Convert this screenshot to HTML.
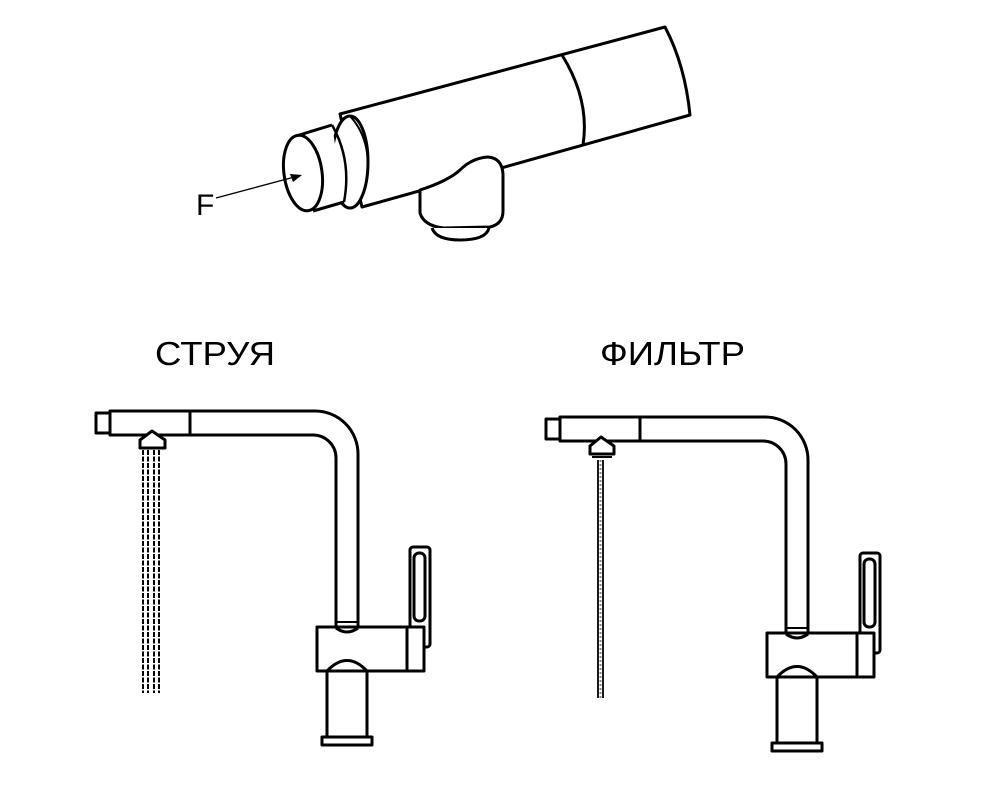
<!DOCTYPE html>
<html><head><meta charset="utf-8"><style>
html,body{margin:0;padding:0;background:#fff;}
svg{display:block;}
</style></head><body>
<svg width="999" height="800" viewBox="0 0 999 800" xmlns="http://www.w3.org/2000/svg">
<defs>
<g id="faucet" fill="#fff" stroke="#000" stroke-width="3" stroke-linejoin="round">
  <rect x="322" y="737" width="50" height="8"/>
  <rect x="327" y="668" width="40" height="69"/>
  <path d="M190 411 L315 411 A43 43 0 0 1 358 454 L358 628 L336 628 L336 458 A23 23 0 0 0 313 435 L190 435 Z"/>
  <rect x="410" y="547" width="20" height="100" rx="3"/>
  <rect x="414" y="553" width="11" height="68" rx="5"/>
  <rect x="317" y="627" width="90" height="44"/>
  <rect x="407" y="627" width="17" height="44"/>
  <path d="M327 671 Q347 650 367 671" fill="none"/>
  <path d="M336 628 Q347 636 358 628" fill="none"/>
  <path d="M336 622 L358 622" fill="none" stroke-width="2"/>
  <rect x="110" y="411" width="80" height="24"/>
  <rect x="96" y="413" width="14" height="20"/>
</g>
</defs>

<g fill="#fff" stroke="#000" stroke-width="3" stroke-linejoin="round">
  <path d="M340 114 L665 27 Q685 65 690 115 L362 207 Z"/>
  <path d="M562 55 Q590 100 583 145" fill="none"/>
  <path d="M420 194 L420 213 Q424 226 444 228 L490 227 Q503 224 503 211 L503 174 Q502 158 488 157 Q472 158 460 170 Q448 181 420 190 Z"/>
  <path d="M432 228 Q436 240 460 240 Q486 240 489 228"/>
  <ellipse cx="350" cy="162" rx="18" ry="46"/>
  <path d="M350 116 Q372 140 367 180 Q364 200 353 208" fill="none" stroke-width="2"/>
  <path d="M296 136 L332 125 L344 202 L313 211 Z" stroke="none"/>
  <path d="M296 136 L332 125" fill="none"/>
  <path d="M313 211 L344 202" fill="none"/>
  <path d="M332 125 Q352 160 344 202" fill="none" stroke-width="2.5"/>
  <ellipse cx="303" cy="173" rx="19" ry="38" transform="rotate(-8 303 173)"/>
</g>
<line x1="216" y1="198" x2="298" y2="176" stroke="#000" stroke-width="1.3"/>
<path d="M302 175 L290 174 L293 182 Z" fill="#000"/>
<text x="196" y="215" font-family="Liberation Sans, sans-serif" font-size="30" fill="#000">F</text>

<text x="155" y="365" font-family="Liberation Sans, sans-serif" font-size="33" textLength="120" lengthAdjust="spacingAndGlyphs" fill="#000">СТРУЯ</text>
<text x="600" y="365" font-family="Liberation Sans, sans-serif" font-size="33" textLength="145" lengthAdjust="spacingAndGlyphs" fill="#000">ФИЛЬТР</text>

<use href="#faucet"/>
<g stroke="#000" stroke-width="2" stroke-dasharray="5 1.5" fill="none">
  <line x1="143" y1="450" x2="143" y2="693"/>
  <line x1="148" y1="450" x2="148" y2="693"/>
  <line x1="154" y1="450" x2="154" y2="693"/>
  <line x1="159" y1="450" x2="159" y2="693"/>
</g>
<path d="M140 448 L140 440 L152 431 L165 440 L165 448 Z" fill="#fff" stroke="#000" stroke-width="3" stroke-linejoin="round"/>

<use href="#faucet" transform="translate(450,6)"/>
<g stroke="#000" stroke-width="1.8" fill="none">
  <line x1="598" y1="460" x2="598" y2="698"/>
  <line x1="603" y1="460" x2="603" y2="698"/>
</g>
<line x1="600.5" y1="460" x2="600.5" y2="698" stroke="#888" stroke-width="2" stroke-dasharray="2 2"/>
<path d="M590 454 L590 446 L601 437 L614 446 L614 454 Z" fill="#fff" stroke="#000" stroke-width="3" stroke-linejoin="round"/>
<line x1="592" y1="457" x2="612" y2="457" stroke="#000" stroke-width="2"/>
</svg>
</body></html>
